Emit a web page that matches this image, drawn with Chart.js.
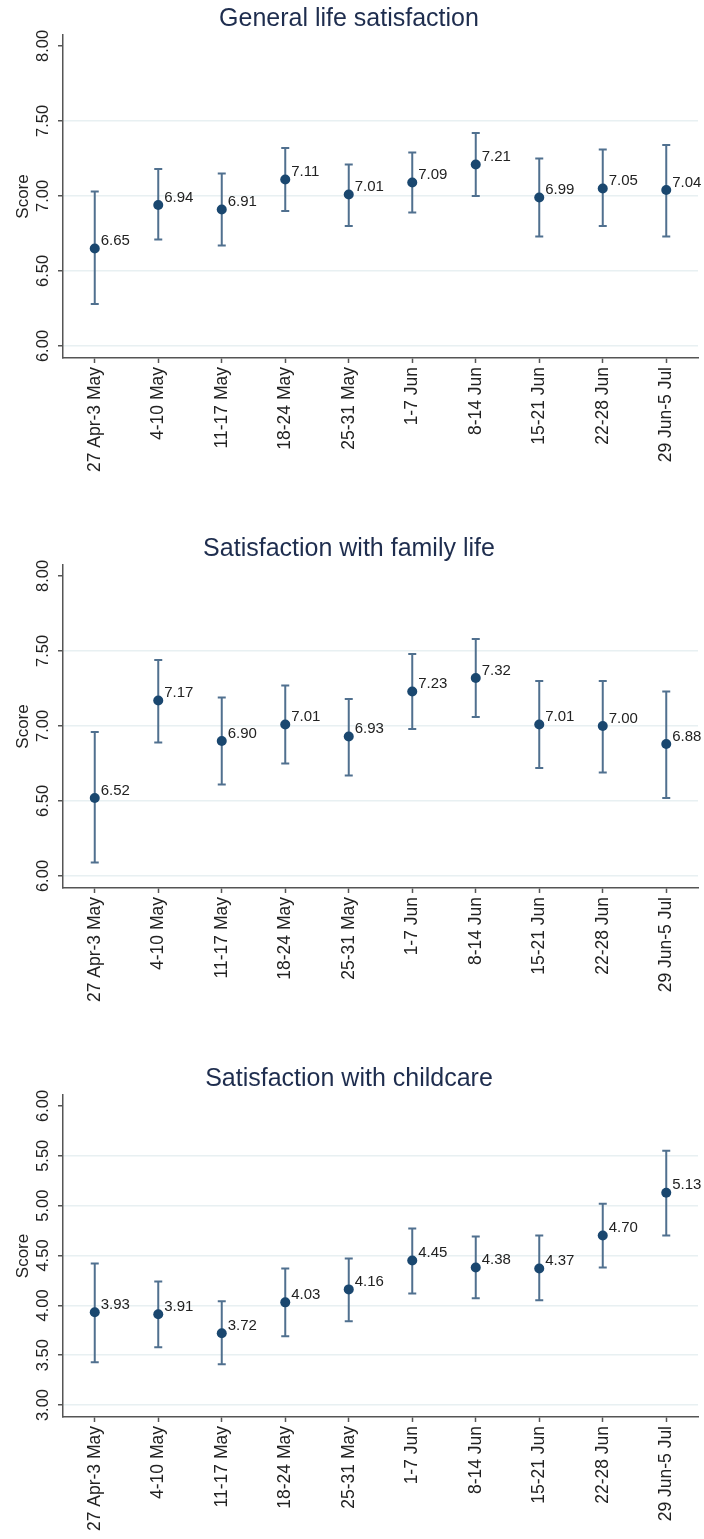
<!DOCTYPE html>
<html>
<head>
<meta charset="utf-8">
<title>Satisfaction by week</title>
<script src="https://cdn.jsdelivr.net/npm/chart.js@4.4.1/dist/chart.umd.min.js"></script>
<style>
  body { margin: 0; background: #fff; }
  .panel { position: absolute; left: 0; width: 704px; }
</style>
</head>
<body>
<div class="panel" style="top:0"><canvas id="lifeChart" width="704" height="480"></canvas></div>
<div class="panel" style="top:530px"><canvas id="familyChart" width="704" height="480"></canvas></div>
<div class="panel" style="top:1060px"><canvas id="childChart" width="704" height="479"></canvas></div>
<script>
// Survey weeks
const weeks = ['27 Apr-3 May', '4-10 May', '11-17 May', '18-24 May', '25-31 May',
               '1-7 Jun', '8-14 Jun', '15-21 Jun', '22-28 Jun', '29 Jun-5 Jul'];

// General life satisfaction (mean + 95% CI)
const lifeMean = [6.65, 6.94, 6.91, 7.11, 7.01, 7.09, 7.21, 6.99, 7.05, 7.04];
const lifeLow  = [6.28, 6.71, 6.67, 6.90, 6.80, 6.89, 7.00, 6.73, 6.80, 6.73];
const lifeHigh = [7.03, 7.18, 7.15, 7.32, 7.21, 7.29, 7.42, 7.25, 7.31, 7.34];

// Satisfaction with family life
const familyMean = [6.52, 7.17, 6.90, 7.01, 6.93, 7.23, 7.32, 7.01, 7.00, 6.88];
const familyLow  = [6.09, 6.89, 6.61, 6.75, 6.67, 6.98, 7.06, 6.72, 6.69, 6.52];
const familyHigh = [6.96, 7.44, 7.19, 7.27, 7.18, 7.48, 7.58, 7.30, 7.30, 7.23];

// Satisfaction with childcare
const childMean = [3.93, 3.91, 3.72, 4.03, 4.16, 4.45, 4.38, 4.37, 4.70, 5.13];
const childLow  = [3.43, 3.58, 3.41, 3.69, 3.84, 4.12, 4.07, 4.05, 4.38, 4.70];
const childHigh = [4.42, 4.24, 4.04, 4.37, 4.47, 4.77, 4.69, 4.70, 5.02, 5.55];

// Y tick labels
const scoreTicks = [6.00, 6.50, 7.00, 7.50, 8.00];
const childTicks = [3.00, 3.50, 4.00, 4.50, 5.00, 5.50, 6.00];

const FONT = "Arial, 'Liberation Sans', sans-serif";
const AXIS = '#555555';
const TEXT = '#222222';

// CI whiskers under the points, value labels on top
const errorBars = {
    id: 'errorBars',
    beforeDatasetsDraw(chart, args, opts) {
        const { ctx, scales: { x, y } } = chart;
        ctx.save();
        ctx.strokeStyle = '#50708f';
        ctx.lineWidth = 2;
        opts.low.forEach((lo, i) => {
            const px = x.getPixelForValue(i);
            const top = y.getPixelForValue(opts.high[i]);
            const bot = y.getPixelForValue(lo);
            ctx.beginPath();
            ctx.moveTo(px, top); ctx.lineTo(px, bot);
            ctx.moveTo(px - 4, top); ctx.lineTo(px + 4, top);
            ctx.moveTo(px - 4, bot); ctx.lineTo(px + 4, bot);
            ctx.stroke();
        });
        ctx.restore();
    },
    afterDatasetsDraw(chart) {
        const { ctx } = chart;
        const values = chart.data.datasets[0].data;
        ctx.save();
        ctx.font = '15px ' + FONT;
        ctx.fillStyle = TEXT;
        ctx.textAlign = 'left';
        ctx.textBaseline = 'middle';
        chart.getDatasetMeta(0).data.forEach((pt, i) => {
            ctx.fillText(values[i].toFixed(2), pt.x + 6, pt.y - 7.5);
        });
        ctx.restore();
    }
};

// Stata-style vertical y tick labels
const yLabels = {
    id: 'yLabels',
    afterDraw(chart) {
        const { ctx, scales: { y } } = chart;
        ctx.save();
        ctx.font = '16.5px ' + FONT;
        ctx.fillStyle = TEXT;
        ctx.textAlign = 'center';
        ctx.textBaseline = 'middle';
        y.ticks.forEach(t => {
            ctx.save();
            ctx.translate(y.right - 20, y.getPixelForValue(t.value));
            ctx.rotate(-Math.PI / 2);
            ctx.fillText(t.value.toFixed(2), 0, 0);
            ctx.restore();
        });
        ctx.restore();
    }
};

function makeChart(id, title, means, low, high, ticks, yMin, yMax) {
    const topTick = ticks[ticks.length - 1];
    return new Chart(document.getElementById(id), {
        type: 'line',
        data: {
            labels: weeks,
            datasets: [{
                data: means,
                showLine: false,
                pointRadius: 5,
                pointHoverRadius: 5,
                pointBorderWidth: 0,
                pointBackgroundColor: '#1a476f'
            }]
        },
        options: {
            responsive: false,
            animation: false,
            events: [],
            layout: { padding: { left: 0, right: 6, top: 0, bottom: 0 } },
            scales: {
                x: {
                    type: 'category',
                    offset: true,
                    grid: { drawOnChartArea: false, tickLength: 5, tickColor: AXIS, tickWidth: 1.5 },
                    border: { color: AXIS, width: 1.5 },
                    ticks: {
                        autoSkip: false,
                        minRotation: 90,
                        maxRotation: 90,
                        padding: 4,
                        color: TEXT,
                        font: { family: FONT, size: 17.5 }
                    },
                    afterFit: s => { s.height = 122; }
                },
                y: {
                    min: yMin,
                    max: yMax,
                    grid: {
                        color: c => (c.tick && c.tick.value === topTick) ? 'rgba(0,0,0,0)' : '#e8f0f2',
                        lineWidth: 1.5,
                        tickLength: 5,
                        tickColor: AXIS,
                        tickWidth: 1.5
                    },
                    border: { color: AXIS, width: 1.5 },
                    ticks: { display: false },
                    title: {
                        display: true,
                        text: 'Score',
                        color: TEXT,
                        font: { family: FONT, size: 17 },
                        padding: { top: 13, bottom: 0 }
                    },
                    afterBuildTicks: s => { s.ticks = ticks.map(v => ({ value: v })); },
                    afterFit: s => { s.width = 63; }
                }
            },
            plugins: {
                legend: { display: false },
                tooltip: { enabled: false },
                title: {
                    display: true,
                    text: title,
                    color: '#1e2d4e',
                    font: { family: FONT, size: 25, weight: 'normal' },
                    padding: { top: 4, bottom: 1 }
                },
                errorBars: { low, high }
            }
        },
        plugins: [errorBars, yLabels]
    });
}

makeChart('lifeChart', 'General life satisfaction', lifeMean, lifeLow, lifeHigh, scoreTicks, 5.92, 8.073);
makeChart('familyChart', 'Satisfaction with family life', familyMean, familyLow, familyHigh, scoreTicks, 5.92, 8.073);
makeChart('childChart', 'Satisfaction with childcare', childMean, childLow, childHigh, childTicks, 2.88, 6.11);
</script>
</body>
</html>
